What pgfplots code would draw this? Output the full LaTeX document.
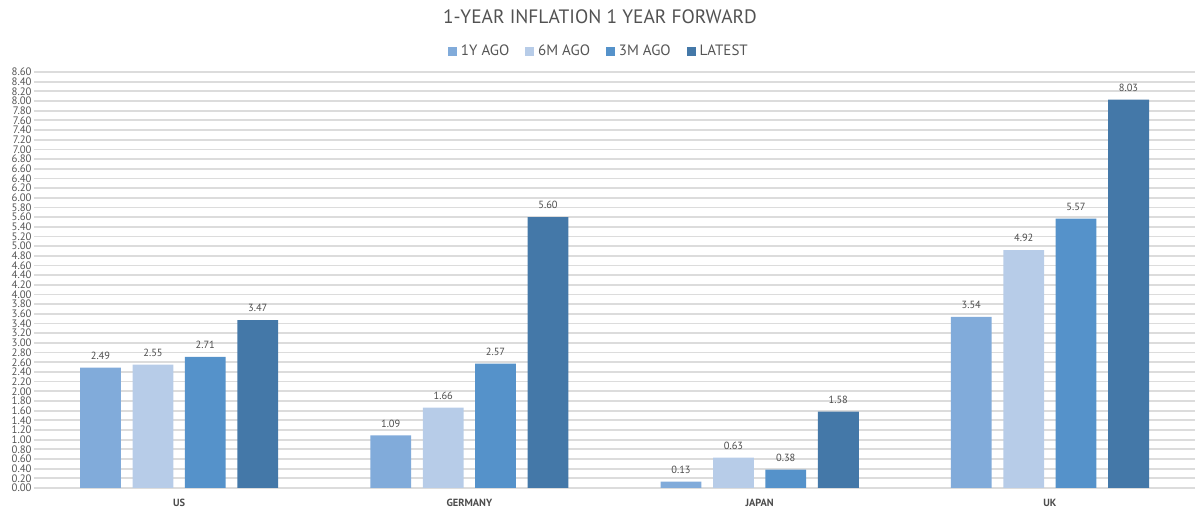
\documentclass[border=0pt]{standalone}
\usepackage{fontspec}
\setmainfont{PT Sans}
\usepackage{pgfplots}
\pgfplotsset{compat=1.18}
\definecolor{cA}{HTML}{81ABDA}
\definecolor{cB}{HTML}{B7CCE8}
\definecolor{cC}{HTML}{5592CA}
\definecolor{cD}{HTML}{4478A8}
\definecolor{gridc}{HTML}{DCDCDC}
\definecolor{txt}{HTML}{555555}
\begin{document}
\begin{tikzpicture}
\useasboundingbox (0pt,0pt) rectangle (600pt,257pt);
\begin{axis}[
  at={(17pt,13pt)}, anchor=south west,
  scale only axis, width=580.5pt, height=208pt,
  xmin=-0.5, xmax=3.5, ymin=0, ymax=8.6,
  ytick={0,0.2,...,8.61},
  xtick={0,1,2,3},
  xticklabels={US,GERMANY,JAPAN,UK},
  ymajorgrids, grid style={gridc, line width=0.9pt},
  axis line style={draw=none},
  major tick length=0pt,
  /pgf/number format/assume math mode=true,
  yticklabel style={font=\fontsize{5.4}{6}\selectfont, text=txt},
  yticklabel={\pgfmathprintnumber[fixed,fixed zerofill,precision=2]{\tick}},
  xticklabel style={font=\fontsize{5.2}{6}\selectfont\bfseries, text=black!70, yshift=-4pt},
  ytick style={draw=none}, xtick style={draw=none},
  tick label style={inner sep=1pt},
  typeset ticklabels with strut,
  ybar, bar width=0.141,
  nodes near coords={\pgfmathprintnumber[fixed,fixed zerofill,precision=2]{\pgfplotspointmeta}},
  nodes near coords style={font=\fontsize{5.2}{6}\selectfont, text=black!70, yshift=0.5pt},
  title={1-YEAR INFLATION 1 YEAR FORWARD},
  title style={at={(0.4875,1.105)}, anchor=center, font=\fontsize{9.7}{11}\selectfont, text=black!68},
  legend columns=4,
  legend style={at={(0.4875,1.05)}, anchor=center, draw=none, fill=none,
    font=\fontsize{7.5}{9}\selectfont, text=txt,
    /tikz/every even column/.append style={column sep=6pt}},
  legend image code/.code={\fill[#1] (0pt,-2.2pt) rectangle (4.4pt,2.2pt);},
  clip=false,
]
\addplot[fill=cA, draw=none, bar shift=-0.271] coordinates {(0,2.49) (1,1.09) (2,0.13) (3,3.54)};
\addplot[fill=cB, draw=none, bar shift=-0.090] coordinates {(0,2.55) (1,1.66) (2,0.63) (3,4.92)};
\addplot[fill=cC, draw=none, bar shift=0.090] coordinates {(0,2.71) (1,2.57) (2,0.38) (3,5.57)};
\addplot[fill=cD, draw=none, bar shift=0.271] coordinates {(0,3.47) (1,5.60) (2,1.58) (3,8.03)};
\legend{1Y AGO, 6M AGO, 3M AGO, LATEST}
\end{axis}
\end{tikzpicture}
\end{document}
